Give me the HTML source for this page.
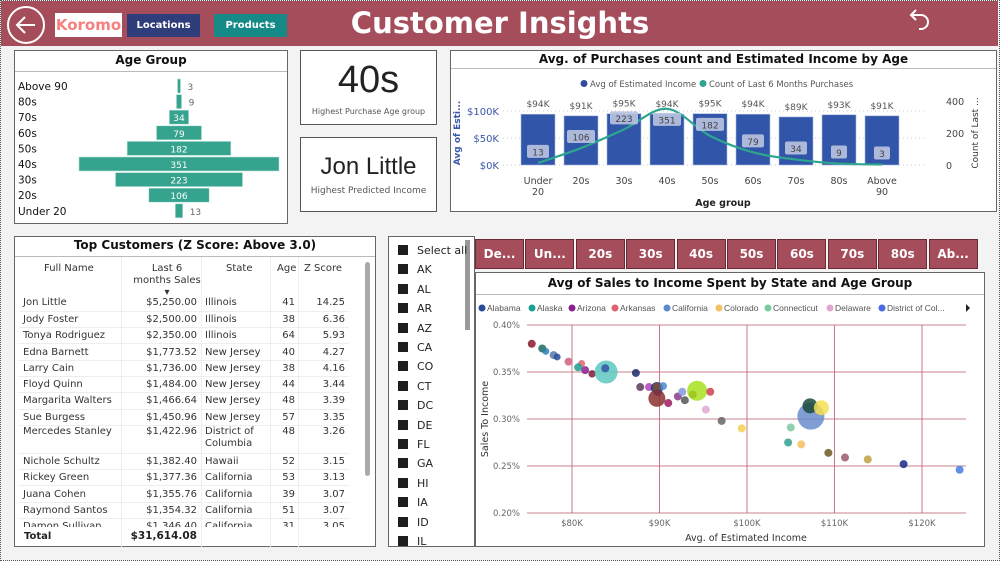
<!DOCTYPE html>
<html><head><meta charset="utf-8">
<style>
*{box-sizing:border-box;margin:0;padding:0}
body{width:1000px;height:561px;overflow:hidden;background:#f3f3f3;font-family:"DejaVu Sans","Liberation Sans",sans-serif;position:relative}
.abs{position:absolute}
.panel{position:absolute;background:#fff;border:1px solid #666}
.ptitle{position:absolute;left:0;right:0;text-align:center;font-weight:bold;font-size:12px;color:#111;border-bottom:1px solid #bbb}
.btn{position:absolute;top:239px;height:30px;width:49px;background:#a64d5c;border:1px solid #6a2a35;color:#fff;font-size:12px;font-weight:bold;text-align:center;line-height:29px}
.sl{position:absolute;left:398px;font-size:11px;color:#222;height:14px;line-height:12px}
.sl i{display:inline-block;width:10px;height:10px;background:#1e1e1e;margin-right:9px;vertical-align:-1px}
table{border-collapse:collapse;font-size:10px;color:#333}
td{height:16.3px;padding:0 4px;border-bottom:1px solid #eee;white-space:nowrap}
td.r{text-align:right}
</style></head><body>
<div class="abs" style="left:0;top:0;width:1000px;height:561px;border:1px dotted #555"></div>
<!-- header -->
<div class="abs" style="left:1px;top:1px;width:997px;height:45px;background:#a64d5c"></div>
<div class="abs" style="left:7px;top:6px;width:38px;height:38px;border:2px solid #fff;border-radius:50%"></div>
<svg class="abs" style="left:7px;top:6px" width="38" height="38"><path d="M28 19H11M18 11l-8 8 8 8" stroke="#fff" stroke-width="2" fill="none"/></svg>
<div class="abs" style="left:55px;top:13px;width:67px;height:24px;background:#fff;color:#f67f7f;font-weight:bold;font-size:15px;line-height:24px;text-align:center">Koromo</div>
<div class="abs" style="left:127px;top:14px;width:73px;height:23px;background:#2f3d7a;color:#fff;font-size:10px;font-weight:bold;line-height:23px;text-align:center">Locations</div>
<div class="abs" style="left:214px;top:14px;width:73px;height:23px;background:#158a87;color:#fff;font-size:10px;font-weight:bold;line-height:23px;text-align:center">Products</div>
<div class="abs" style="left:300px;top:3px;width:400px;text-align:center;color:#fff;font-weight:bold;font-size:29px;line-height:40px">Customer Insights</div>
<svg class="abs" style="left:905px;top:5px" width="30" height="30"><path d="M11 5l-5 5 5 5M6 10h10a7 7 0 0 1 0 14h-2" stroke="#fff" stroke-width="2" fill="none"/></svg>

<!-- Age group funnel -->
<div class="panel" style="left:14px;top:50px;width:274px;height:174px">
<div class="ptitle" style="top:0;height:21px;line-height:18px">Age Group</div>
</div>
<svg class="abs" id="funnel" style="left:14px;top:50px" width="274" height="174"></svg>

<!-- KPI cards -->
<div class="panel" style="left:300px;top:50px;width:137px;height:75px;border-color:#555">
<div class="abs" style="left:0;right:0;top:8px;text-align:center;font-size:38px;color:#222;font-family:'Liberation Sans',sans-serif">40s</div>
<div class="abs" style="left:0;right:0;top:56px;text-align:center;font-size:8px;color:#555">Highest Purchase Age group</div>
</div>
<div class="panel" style="left:300px;top:137px;width:137px;height:75px;border-color:#555">
<div class="abs" style="left:0;right:0;top:15px;text-align:center;font-size:24px;color:#222;font-family:'Liberation Sans',sans-serif">Jon Little</div>
<div class="abs" style="left:0;right:0;top:48px;text-align:center;font-size:9px;color:#555">Highest Predicted Income</div>
</div>

<!-- Combo chart -->
<div class="panel" style="left:450px;top:50px;width:547px;height:162px">
<div class="ptitle" style="top:0;height:18px;line-height:16px">Avg. of Purchases count and Estimated Income by Age</div>
</div>
<svg class="abs" id="combo" style="left:0;top:0" width="1000" height="561" pointer-events="none"></svg>

<!-- Table -->
<div class="panel" style="left:14px;top:236px;width:362px;height:311px">
<div class="ptitle" style="top:0;height:20px;line-height:17px">Top Customers (Z Score: Above 3.0)</div>
<div class="abs" style="left:350px;top:25px;width:5px;height:214px;background:#aaa;border-radius:3px"></div>
<div class="abs" style="left:106px;top:20px;height:290px;border-left:1px solid #eee"></div>
<div class="abs" style="left:186px;top:20px;height:290px;border-left:1px solid #eee"></div>
<div class="abs" style="left:255px;top:20px;height:290px;border-left:1px solid #eee"></div>
<div class="abs" style="left:283px;top:20px;height:290px;border-left:1px solid #eee"></div>
<div class="abs" style="left:5px;top:26px;font-size:10px;color:#333;line-height:12px">
<span class="abs" style="left:24px;white-space:nowrap">Full Name</span>
<span class="abs" style="left:112px;width:70px;text-align:center">Last 6 months Sales<br>▾</span>
<span class="abs" style="left:206px;white-space:nowrap">State</span>
<span class="abs" style="left:257px">Age</span>
<span class="abs" style="left:284px;white-space:nowrap">Z Score</span>
</div>
<div class="abs" style="left:4px;top:58px;width:330px;height:232px;overflow:hidden">
<table style="width:330px">
<colgroup><col style="width:102px"><col style="width:80px"><col style="width:70px"><col style="width:28px"><col style="width:50px"></colgroup>
<tr><td>Jon Little</td><td class="r">$5,250.00</td><td>Illinois</td><td class="r">41</td><td class="r">14.25</td></tr>
<tr><td>Jody Foster</td><td class="r">$2,500.00</td><td>Illinois</td><td class="r">38</td><td class="r">6.36</td></tr>
<tr><td>Tonya Rodriguez</td><td class="r">$2,350.00</td><td>Illinois</td><td class="r">64</td><td class="r">5.93</td></tr>
<tr><td>Edna Barnett</td><td class="r">$1,773.52</td><td>New Jersey</td><td class="r">40</td><td class="r">4.27</td></tr>
<tr><td>Larry Cain</td><td class="r">$1,736.00</td><td>New Jersey</td><td class="r">38</td><td class="r">4.16</td></tr>
<tr><td>Floyd Quinn</td><td class="r">$1,484.00</td><td>New Jersey</td><td class="r">44</td><td class="r">3.44</td></tr>
<tr><td>Margarita Walters</td><td class="r">$1,466.64</td><td>New Jersey</td><td class="r">48</td><td class="r">3.39</td></tr>
<tr><td>Sue Burgess</td><td class="r">$1,450.96</td><td>New Jersey</td><td class="r">57</td><td class="r">3.35</td></tr>
<tr><td style="vertical-align:top;height:28px">Mercedes Stanley</td><td class="r" style="vertical-align:top">$1,422.96</td><td style="vertical-align:top;line-height:12px">District of<br>Columbia</td><td class="r" style="vertical-align:top">48</td><td class="r" style="vertical-align:top">3.26</td></tr>
<tr><td>Nichole Schultz</td><td class="r">$1,382.40</td><td>Hawaii</td><td class="r">52</td><td class="r">3.15</td></tr>
<tr><td>Rickey Green</td><td class="r">$1,377.36</td><td>California</td><td class="r">53</td><td class="r">3.13</td></tr>
<tr><td>Juana Cohen</td><td class="r">$1,355.76</td><td>California</td><td class="r">39</td><td class="r">3.07</td></tr>
<tr><td>Raymond Santos</td><td class="r">$1,354.32</td><td>California</td><td class="r">51</td><td class="r">3.07</td></tr>
<tr><td>Damon Sullivan</td><td class="r">$1,346.40</td><td>California</td><td class="r">31</td><td class="r">3.05</td></tr>
</table></div>
<div class="abs" style="left:9px;top:294px;font-size:10px;font-weight:bold;color:#222">Total</div>
<div class="abs" style="left:96px;top:293px;width:86px;text-align:right;font-size:10.5px;font-weight:bold;color:#222">$31,614.08</div>
</div>

<!-- state slicer -->
<div class="panel" style="left:388px;top:236px;width:87px;height:311px"></div>
<div class="abs" style="left:465px;top:240px;width:5px;height:90px;background:#999"></div>
<div id="slicer"></div>

<!-- age buttons -->
<div id="btns"></div>

<!-- scatter -->
<div class="panel" style="left:475px;top:272px;width:510px;height:275px">
<div class="ptitle" style="top:0;height:22px;line-height:20px">Avg of Sales to Income Spent by State and Age Group</div>
</div>
<svg class="abs" id="scatter" style="left:0;top:0" width="1000" height="561" pointer-events="none"></svg>

<script>
const NS='http://www.w3.org/2000/svg';
function mk(parent,tag,attrs,text){const e=document.createElementNS(NS,tag);for(const k in attrs)e.setAttribute(k,attrs[k]);if(text!==undefined)e.textContent=text;parent.appendChild(e);return e;}

// ---- funnel data
const funnelCats=['Above 90','80s','70s','60s','50s','40s','30s','20s','Under 20'];
const funnelVals=[3,9,34,79,182,351,223,106,13];
// ---- combo data
const ageCats=['Under 20','20s','30s','40s','50s','60s','70s','80s','Above 90'];
const incomeK=[94,91,95,94,95,94,89,93,91];
const purchaseCounts=[13,106,223,351,182,79,34,9,3];
const leftTicks=[0,50,100];
const rightTicks=[0,200,400];
// ---- scatter data
const incomeX=[75.4,76.6,77.0,77.9,78.3,79.6,81.1,80.7,81.5,82.3,83.9,83.8,87.3,87.8,88.8,89.7,89.8,90.4,89.7,89.7,91.0,92.1,92.6,92.9,93.8,94.3,95.8,95.3,97.1,99.4,105.0,104.7,106.2,107.3,107.2,108.5,109.3,111.2,113.8,117.9,124.3];
const salesPct=[0.380,0.375,0.372,0.368,0.366,0.361,0.359,0.355,0.352,0.348,0.350,0.354,0.349,0.334,0.334,0.333,0.329,0.335,0.334,0.322,0.317,0.324,0.329,0.320,0.326,0.330,0.329,0.310,0.298,0.290,0.291,0.275,0.273,0.303,0.314,0.312,0.264,0.259,0.257,0.252,0.246];
const bubbleSize=[4,4,3.5,4,3.5,4,3.5,4,4,3.7,11.5,4,4,4,4,6,4.5,4,4,8.5,4,4,4,4,4,10,4,4,4,4,4,4,4,13.5,7.5,7.5,4,4,4,4,4];
const bubbleColors=['#8b1a2a','#1a6b5a','#2e7fb0','#5577aa','#2a4a9a','#d06080','#e06070','#1aa090','#8a2090','#7a1a3a','#5cc8c0','#3355aa','#1a2a6a','#5a3a5a','#b040c0','#1a3a5a','#2255bb','#4a8ad0','#7a4a3a','#8a3030','#a01a60','#8a3a8a','#8899dd','#555555','#6a1a1a','#a8e020','#d04050','#e0a8d0','#666666','#f5d050','#7cc8a0','#30a090','#f5c060','#6a8ccc','#1a4a3a','#f5e050','#6a5a20','#9a5a6a','#c0a040','#1a2a8a','#4a7ae8'];
const xTicks=[80,90,100,110,120];
const yTicks=[0.20,0.25,0.30,0.35,0.40];
const legendStates=['Alabama','Alaska','Arizona','Arkansas','California','Colorado','Connecticut','Delaware','District of Col...'];
const legendColors=['#2a4a9a','#1aa090','#8a2090','#e06070','#5a8ad0','#f5c060','#7cc8a0','#e0a8d0','#4a6ae8'];
const slicerItems=['Select all','AK','AL','AR','AZ','CA','CO','CT','DC','DE','FL','GA','HI','IA','ID','IL'];
const ageButtons=['De...','Un...','20s','30s','40s','50s','60s','70s','80s','Ab...'];

// funnel
(function(){
 const s=document.getElementById('funnel');
 const cx=165, w=v=>v*200/351, y0=36, step=15.6;
 funnelCats.forEach((c,i)=>{
  const y=y0+i*step;
  const t=mk(s,'text',{x:4,y:y+4,'font-size':10.5,fill:'#111'},c);
  
  const bw=Math.max(w(funnelVals[i]),3);
  const r=mk(s,'rect',{x:cx-bw/2,y:y-7,width:bw,height:14,fill:'#36a38e',stroke:'#bfe5dc','stroke-width':0.6});
  
  const inside=bw>15;
  const l=mk(s,'text',{x:inside?cx:cx+bw/2+7,y:y+4,'font-size':9,fill:inside?'#fff':'#666','text-anchor':inside?'middle':'start'},funnelVals[i]);
  
 });
})();

// combo
(function(){
 const s=document.getElementById('combo');
 const x=i=>538+i*43, yL=v=>165-v*0.54, yR=v=>165-v*0.16;
 leftTicks.forEach(t=>{
  mk(s,'line',{x1:503,x2:925,y1:yL(t),y2:yL(t),stroke:'#ccc','stroke-dasharray':'1 3'});
  const e=mk(s,'text',{x:499,y:yL(t)+4,'font-size':10,fill:'#3a56a8','text-anchor':'end'},'$'+t+'K');
  
 });
 rightTicks.forEach(t=>{
  const e=mk(s,'text',{x:946,y:yR(t)+4,'font-size':9.5,fill:'#444'},t);
  
 });
 incomeK.forEach((v,i)=>{
  const b=mk(s,'rect',{x:x(i)-17,y:yL(v),width:34,height:165-yL(v),fill:'#3155a8',stroke:'#a8b8e0','stroke-width':0.6});
  
  const l=mk(s,'text',{x:x(i),y:yL(v)-7,'font-size':9,fill:'#555','text-anchor':'middle'},'$'+v+'K');
  
 });
 const pts=purchaseCounts.map((v,i)=>[x(i),yR(v)]);
 let d='M'+pts[0][0]+' '+pts[0][1];
 for(let i=0;i<pts.length-1;i++){
  const p0=pts[Math.max(i-1,0)],p1=pts[i],p2=pts[i+1],p3=pts[Math.min(i+2,pts.length-1)];
  const c1=[p1[0]+(p2[0]-p0[0])/6,p1[1]+(p2[1]-p0[1])/6],c2=[p2[0]-(p3[0]-p1[0])/6,p2[1]-(p3[1]-p1[1])/6];
  d+=' C'+c1+' '+c2+' '+p2;
 }
 const ln=mk(s,'path',{d:d,stroke:'#2ea58e','stroke-width':2.2,fill:'none'});
 
 purchaseCounts.forEach((v,i)=>{
  let ly=yR(v)-11; if(ly<116) ly=yR(v)+11;
  const tw=String(v).length*6+10;
  const r=mk(s,'rect',{x:x(i)-tw/2,y:ly-7,width:tw,height:13,rx:2,fill:'#b7c2e0',opacity:0.92});
  
  const t=mk(s,'text',{x:x(i),y:ly+3.5,'font-size':9,fill:'#444','text-anchor':'middle'},v);
  
 });
 ageCats.forEach((c,i)=>{
  const parts=c.split(' ');
  parts.forEach((p,j)=>{const t=mk(s,'text',{x:x(i),y:184+j*11,'font-size':9.5,fill:'#444','text-anchor':'middle'},p);
   });
 });
 let t=mk(s,'text',{x:723,y:206,'font-size':9.5,'font-weight':'bold',fill:'#222','text-anchor':'middle'},'Age group');
 
 t=mk(s,'text',{x:0,y:0,'font-size':9,'font-weight':'bold',fill:'#3a56a8','text-anchor':'middle',transform:'translate(460,133) rotate(-90)'},'Avg of Esti...');
 
 t=mk(s,'text',{x:0,y:0,'font-size':9,fill:'#333','text-anchor':'middle',transform:'translate(978,133) rotate(-90)'},'Count of Last ...');
 
 mk(s,'circle',{cx:584,cy:83.5,r:3.5,fill:'#2f4c9e'});
 t=mk(s,'text',{x:590,y:87,'font-size':8.5,fill:'#555'},'Avg of Estimated Income');
 
 mk(s,'circle',{cx:703,cy:83.5,r:3.5,fill:'#2ea58e'});
 t=mk(s,'text',{x:709,y:87,'font-size':8.5,fill:'#555'},'Count of Last 6 Months Purchases');
 
})();

// slicer
(function(){
 const host=document.getElementById('slicer');
 slicerItems.forEach((c,i)=>{
  const d=document.createElement('div');d.className='sl';d.style.top=(245+i*19.4)+'px';
  
  
  d.innerHTML='<i></i>'+c;host.appendChild(d);
 });
 const host2=document.getElementById('btns');
 ageButtons.forEach((c,i)=>{
  const d=document.createElement('div');d.className='btn';d.style.left=(475+i*50.4)+'px';
  
  
  d.textContent=c;host2.appendChild(d);
 });
})();

// scatter
(function(){
 const s=document.getElementById('scatter');
 const X=v=>572+(v-80)*8.75, Y=v=>325+(0.40-v)*940;
 yTicks.forEach(t=>{
  mk(s,'line',{x1:527,x2:966,y1:Y(t),y2:Y(t),stroke:'#b85a6a','stroke-width':0.8});
  const e=mk(s,'text',{x:520,y:Y(t)+3,'font-size':8.5,fill:'#666','text-anchor':'end'},t.toFixed(2)+'%');
  
 });
 xTicks.forEach(t=>{
  mk(s,'line',{x1:X(t),x2:X(t),y1:325,y2:513,stroke:'#b85a6a','stroke-width':0.8});
  const e=mk(s,'text',{x:X(t),y:526,'font-size':8.5,fill:'#666','text-anchor':'middle'},'$'+t+'K');
  
 });
 incomeX.forEach((v,i)=>{
  const c=mk(s,'circle',{cx:X(v),cy:Y(salesPct[i]),r:bubbleSize[i],fill:bubbleColors[i],'fill-opacity':0.85});
  
 });
 let t=mk(s,'text',{x:746,y:541,'font-size':9.5,fill:'#333','text-anchor':'middle'},'Avg. of Estimated Income');
 
 t=mk(s,'text',{x:0,y:0,'font-size':9.5,fill:'#333','text-anchor':'middle',transform:'translate(488,419) rotate(-90)'},'Sales To Income');
 
 let lx=478;
 const widths=[50,40,43,52,52,49,62,52,70];
 legendStates.forEach((n,i)=>{
  mk(s,'circle',{cx:lx+4,cy:308,r:3.5,fill:legendColors[i]});
  const e=mk(s,'text',{x:lx+9,y:311,'font-size':8.5,fill:'#555',style:'font-family:"Liberation Sans",sans-serif'},n);
  
  lx+=widths[i];
 });
 t=mk(s,'path',{d:'M966 304l4 4-4 4z',fill:'#222'});
 
})();
</script>
</body></html>
